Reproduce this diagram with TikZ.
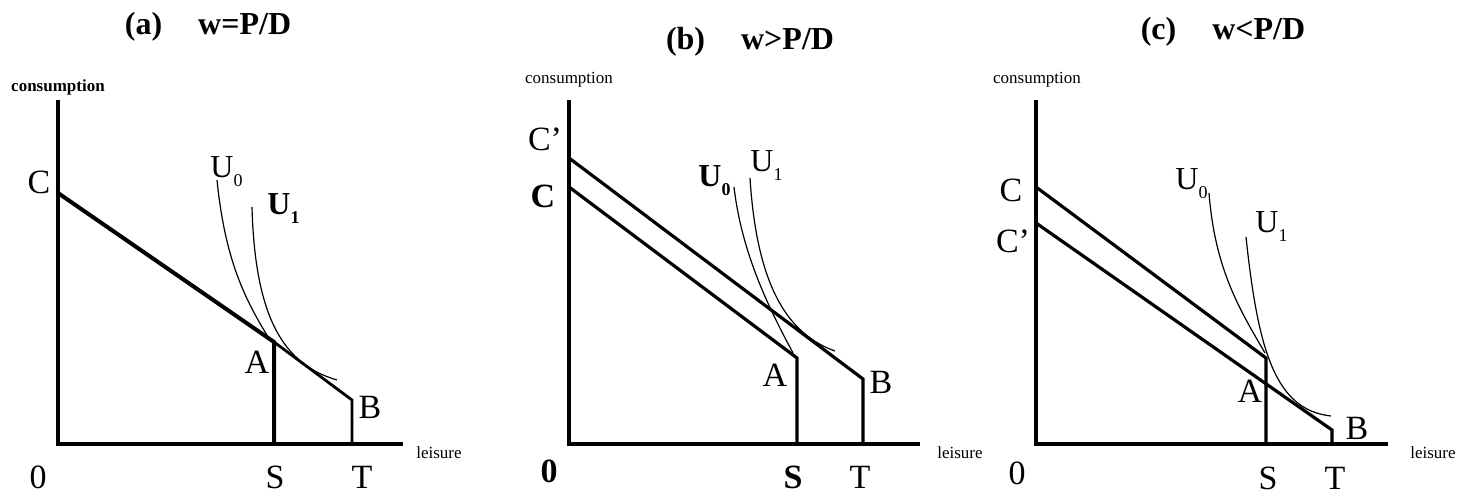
\documentclass[tikz,border=0pt]{standalone}
\usepackage{fontspec}
\setmainfont{Liberation Serif}
\newcommand{\usub}[1]{\raisebox{-4.5pt}{\fontsize{9}{9}\selectfont #1}}

\begin{document}
\begin{tikzpicture}[x=0.5pt, y=-0.5pt, line join=miter,
  ttl/.style={font=\bfseries\fontsize{16}{18}\selectfont, inner sep=0pt},
  lbl/.style={font=\fontsize{17}{19}\selectfont, inner sep=0pt},
  axl/.style={font=\fontsize{8.5}{10}\selectfont, inner sep=0pt},
  ulbl/.style={font=\fontsize{16}{18}\selectfont, anchor=base west, inner sep=0pt},
  ax/.style={line width=2pt},
  bud/.style={line width=1.6pt},
  ind/.style={line width=0.6pt}]
  \useasboundingbox (0,0) rectangle (1473,496);

  % (a) w=P/D
  \node[ttl] (ta) at (208,27) {(a)\hspace{18pt}w=P/D};
  \node[axl, font=\bfseries\fontsize{8.5}{10}\selectfont] (acons) at (58,87) {consumption};
  \node[axl] (aleis) at (439,453) {leisure};
  \coordinate (aY) at (58,100);
  \coordinate (aO) at (58,444);
  \coordinate (aX) at (403,444);
  \coordinate (aC) at (58,193);
  \coordinate (aA) at (274,342);
  \coordinate (aS) at (274,444);
  \coordinate (aB) at (352,400);
  \coordinate (aT) at (352,444);
  \draw[ax] (aY) -- (aO) -- (aX);
  \draw[ax] (aC) -- (aA) -- (aS);
  \draw[line width=1.4pt] (aA) -- (aB) -- (aT);
  \coordinate (aU0) at (217,180);
  \coordinate (aU0e) at (270,340);
  \coordinate (aU1) at (252,207);
  \coordinate (aU1e) at (337,380);
  \draw[ind] (aU0) .. controls (225,260) and (245,300) .. (aU0e);
  \draw[ind] (aU1) .. controls (255,320) and (285,365) .. (aU1e);
  \node[lbl] (aClbl) at (39,182) {C};
  \node[lbl] (aAlbl) at (257,362) {A};
  \node[lbl] (aBlbl) at (370,407) {B};
  \node[lbl] (aOlbl) at (38,477) {0};
  \node[lbl] (aSlbl) at (275,477) {S};
  \node[lbl] (aTlbl) at (362,477) {T};
  \node[ulbl] (aU0lbl) at (210,178) {U\usub{0}};
  \node[ulbl, font=\bfseries\fontsize{16}{18}\selectfont] (aU1lbl) at (267,215) {U\usub{1}};

  % (b) w>P/D
  \node[ttl] (tb) at (750,42) {(b)\hspace{18pt}w>P/D};
  \node[axl] (bcons) at (569,80) {consumption};
  \node[axl] (bleis) at (960,453) {leisure};
  \coordinate (bY) at (569,100);
  \coordinate (bO) at (569,444);
  \coordinate (bX) at (920,444);
  \coordinate (bCp) at (569,158);
  \coordinate (bC) at (569,187);
  \coordinate (bA) at (797,358);
  \coordinate (bS) at (797,444);
  \coordinate (bB) at (863,379);
  \coordinate (bT) at (863,444);
  \draw[ax] (bY) -- (bO) -- (bX);
  \draw[bud] (bC) -- (bA) -- (bS);
  \draw[bud] (bCp) -- (bB) -- (bT);
  \coordinate (bU0) at (734,187);
  \coordinate (bU0e) at (793,353);
  \coordinate (bU1) at (750,178);
  \coordinate (bU1e) at (835,351);
  \draw[ind] (bU0) .. controls (742,255) and (770,310) .. (bU0e);
  \draw[ind] (bU1) .. controls (757,290) and (790,335) .. (bU1e);
  \node[lbl] (bCplbl) at (545,139) {C'};
  \node[lbl, font=\bfseries\fontsize{17}{19}\selectfont] (bClbl) at (543,196) {C};
  \node[lbl] (bAlbl) at (775,375) {A};
  \node[lbl] (bBlbl) at (881,382) {B};
  \node[lbl, font=\bfseries\fontsize{17}{19}\selectfont] (bOlbl) at (549,471) {0};
  \node[lbl, font=\bfseries\fontsize{17}{19}\selectfont] (bSlbl) at (793,477) {S};
  \node[lbl] (bTlbl) at (860,477) {T};
  \node[ulbl, font=\bfseries\fontsize{16}{18}\selectfont] (bU0lbl) at (698,187) {U\usub{0}};
  \node[ulbl] (bU1lbl) at (750,172) {U\usub{1}};

  % (c) w<P/D
  \node[ttl] (tc) at (1223,32) {(c)\hspace{18pt}w<P/D};
  \node[axl] (ccons) at (1037,80) {consumption};
  \node[axl] (cleis) at (1433,453) {leisure};
  \coordinate (cY) at (1036,100);
  \coordinate (cO) at (1036,444);
  \coordinate (cX) at (1388,444);
  \coordinate (cC) at (1036,187);
  \coordinate (cCp) at (1036,223);
  \coordinate (cA) at (1266,358);
  \coordinate (cS) at (1266,444);
  \coordinate (cB) at (1332,430);
  \coordinate (cT) at (1332,444);
  \draw[ax] (cY) -- (cO) -- (cX);
  \draw[bud] (cC) -- (cA) -- (cS);
  \draw[bud] (cCp) -- (cB) -- (cT);
  \coordinate (cU0) at (1209,193);
  \coordinate (cU0e) at (1265,353);
  \coordinate (cU1) at (1246,237);
  \coordinate (cU1e) at (1331,416);
  \draw[ind] (cU0) .. controls (1215,270) and (1240,310) .. (cU0e);
  \draw[ind] (cU1) .. controls (1258,350) and (1275,410) .. (cU1e);
  \node[lbl] (cClbl) at (1011,190) {C};
  \node[lbl] (cCplbl) at (1013,241) {C'};
  \node[lbl] (cAlbl) at (1250,391) {A};
  \node[lbl] (cBlbl) at (1357,428) {B};
  \node[lbl] (cOlbl) at (1017,473) {0};
  \node[lbl] (cSlbl) at (1268,478) {S};
  \node[lbl] (cTlbl) at (1335,478) {T};
  \node[ulbl] (cU0lbl) at (1175,190) {U\usub{0}};
  \node[ulbl] (cU1lbl) at (1255,233) {U\usub{1}};
\end{tikzpicture}
\end{document}
